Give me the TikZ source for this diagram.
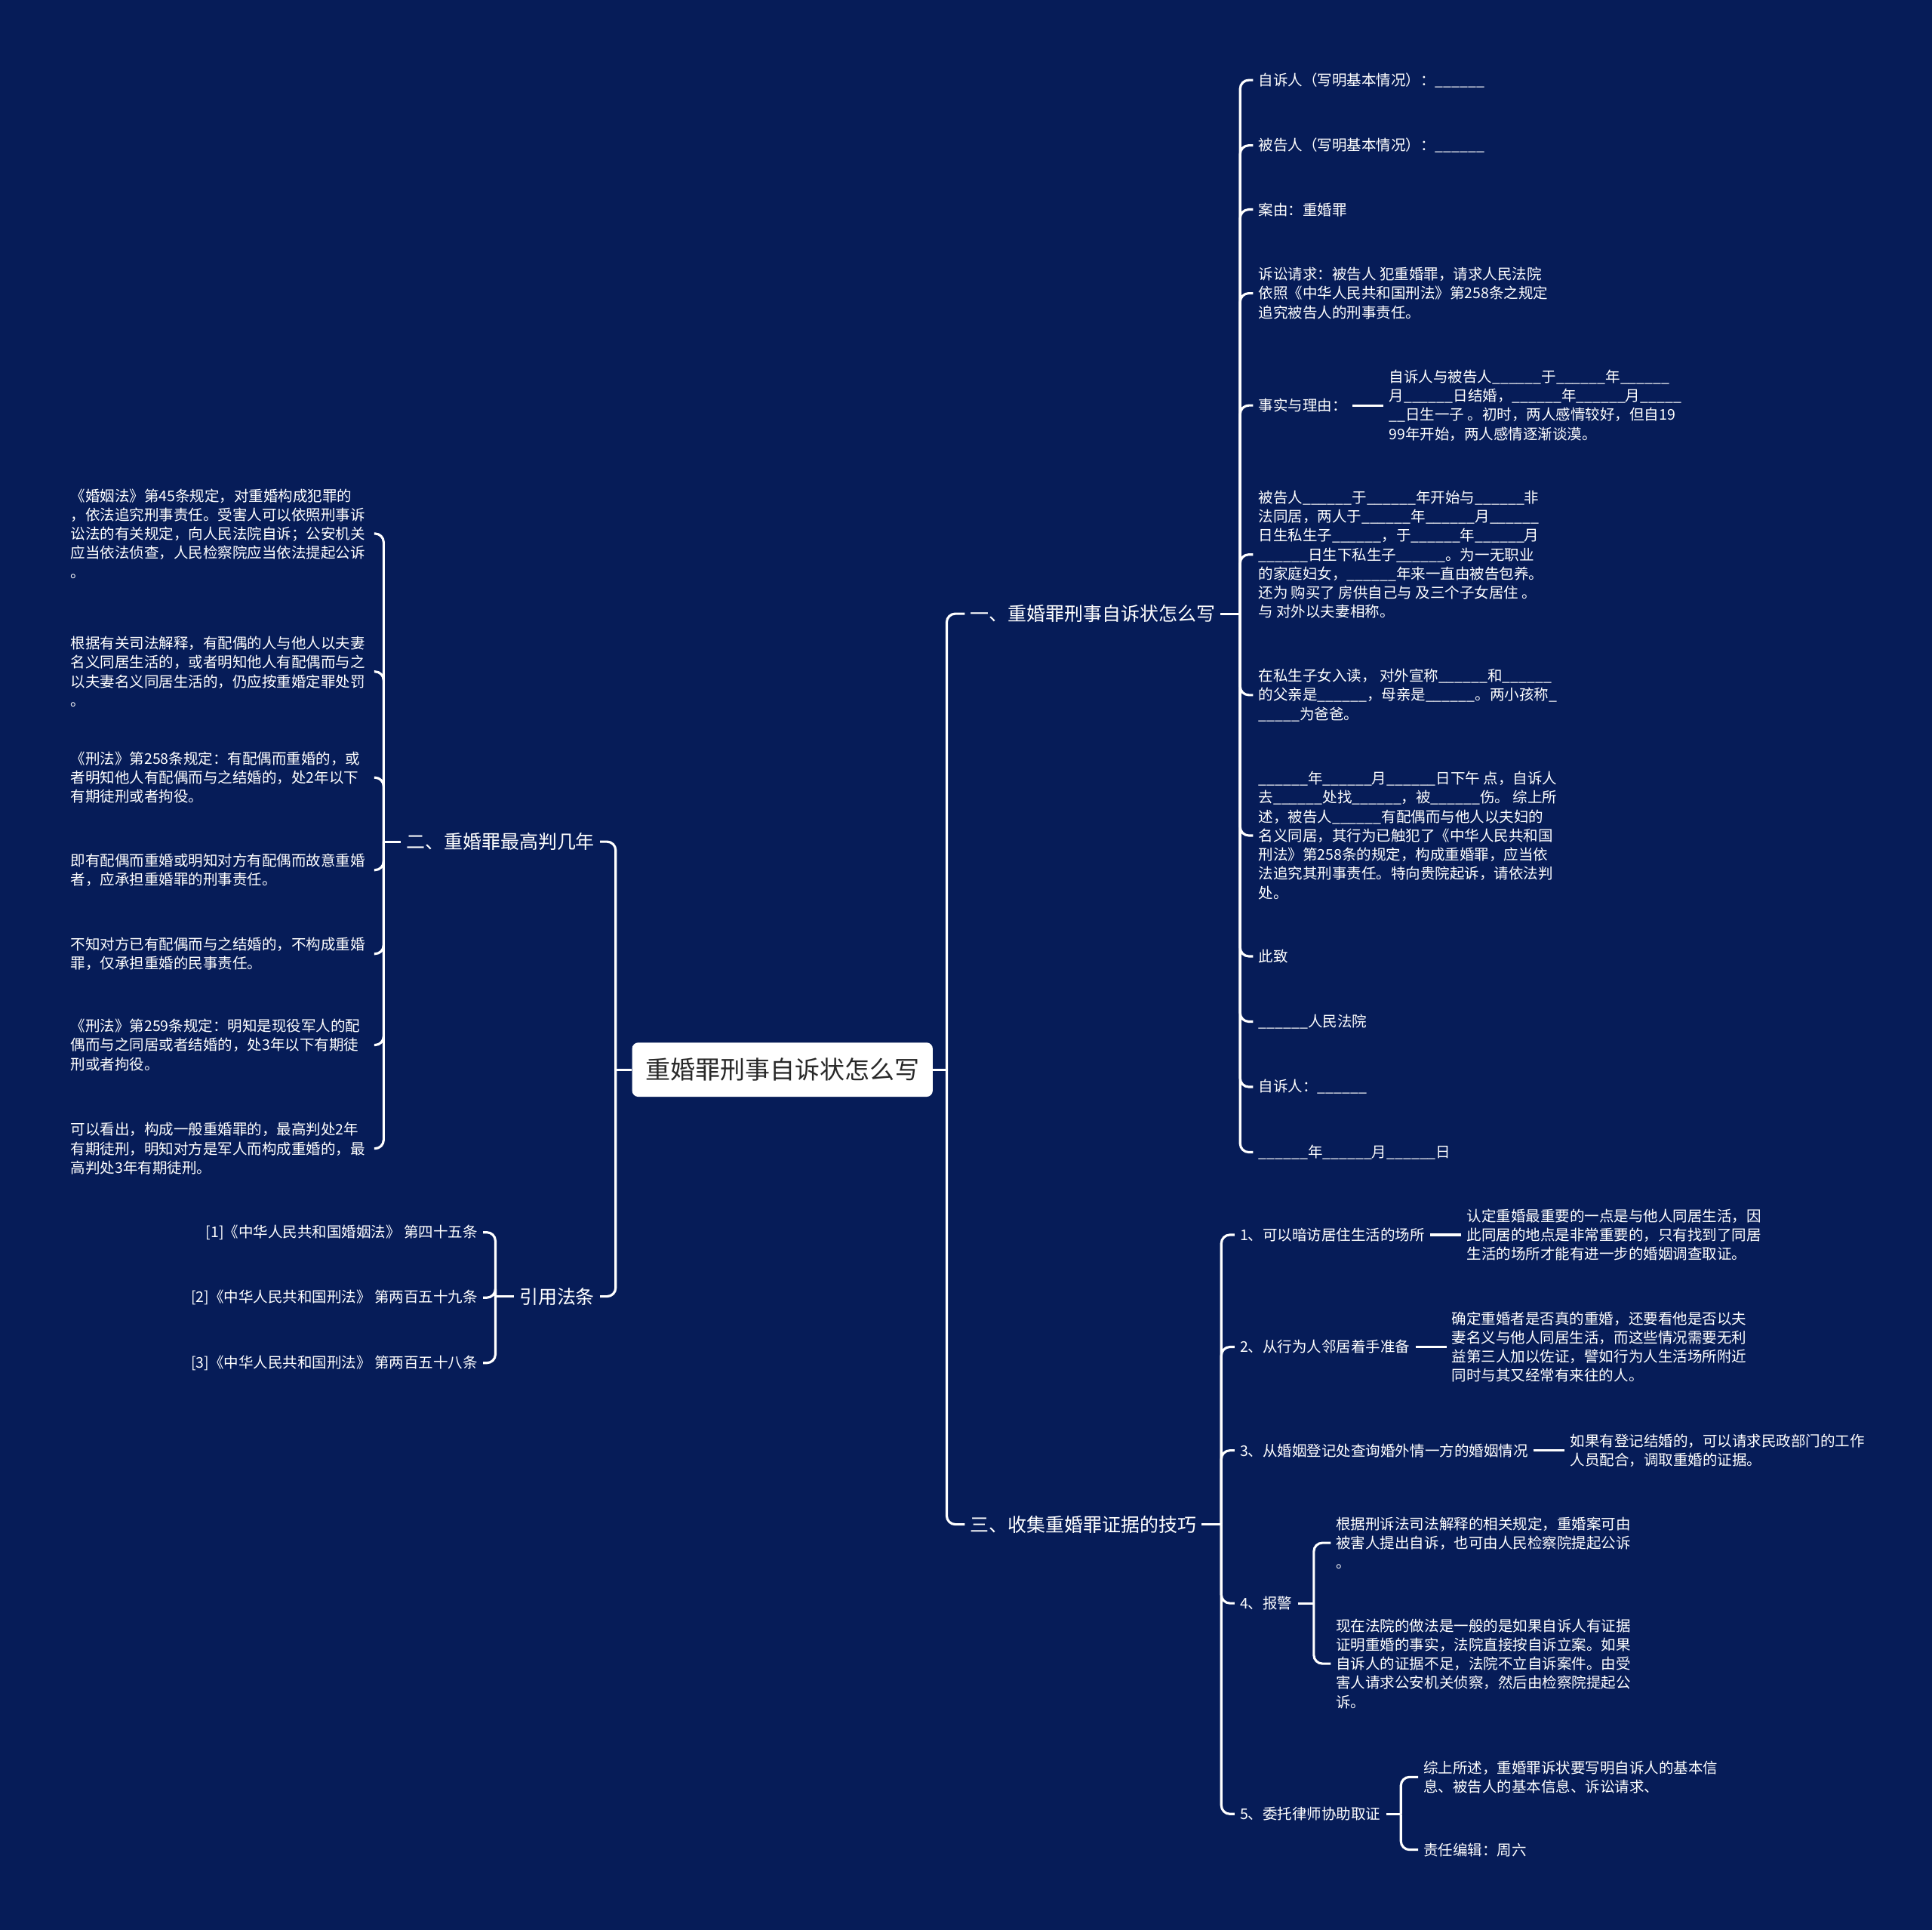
\documentclass[tikz,border=0pt]{standalone}
\usepackage{fontspec}
\setmainfont{Noto Sans CJK SC}
\usepackage{tikz}
\usetikzlibrary{calc}
\definecolor{navy}{RGB}{6,28,88}
\definecolor{ink}{RGB}{40,40,40}
\newcommand{\blank}{\_\_\_\_\_\_}

\begin{document}
\begin{tikzpicture}[x=0.02cm, y=-0.02cm,
  root/.style={fill=white, rounded corners=0.1cm, text=ink, minimum width=4.88cm, minimum height=0.88cm, font=\fontsize{11.5}{13}\selectfont},
  topic/.style={text=white, inner sep=2.3pt, font=\fontsize{8.7}{10}\selectfont},
  leaf/.style={text=white, inner sep=2.3pt, align=left, anchor=west, font=\fontsize{6.8}{8.8}\selectfont},
  note/.style={leaf, text width=4.84cm},
  link/.style={draw=white, line width=1.1pt, rounded corners=0.14cm}]
\fill[navy] (0,0) rectangle (1568,1566);
\useasboundingbox (0,0) rectangle (1568,1566);

\node[root] (root) at (635,868) {重婚罪刑事自诉状怎么写};
\node[topic, anchor=west] (s1) at (783,498) {一、重婚罪刑事自诉状怎么写};
\node[topic, anchor=east] (s2) at (487,683) {二、重婚罪最高判几年};
\node[topic, anchor=east] (s4) at (487,1052) {引用法条};
\node[topic, anchor=west] (s3) at (783,1237) {三、收集重婚罪证据的技巧};

% 一
\node[leaf] (a1) at (1017,65) {自诉人（写明基本情况）：\blank{}};
\node[leaf] (a2) at (1017,118) {被告人（写明基本情况）：\blank{}};
\node[leaf] (a3) at (1017,170) {案由：重婚罪};
\node[leaf] (a4) at (1017,238) {诉讼请求：被告人 犯重婚罪，请求人民法院\\依照《中华人民共和国刑法》第258条之规定\\追究被告人的刑事责任。};
\node[leaf] (a5) at (1017,329) {事实与理由：};
\node[leaf] (a5x) at (1123,329) {自诉人与被告人\blank{}于\blank{}年\blank{}\\月\blank{}日结婚，\blank{}年\blank{}月\_\_\_\_\_\\\_\_日生一子 。初时，两人感情较好，但自19\\99年开始，两人感情逐渐谈漠。};
\node[leaf] (a6) at (1017,450) {被告人\blank{}于\blank{}年开始与\blank{}非\\法同居，两人于\blank{}年\blank{}月\blank{}\\日生私生子\blank{}，于\blank{}年\blank{}月\\\blank{}日生下私生子\blank{}。为一无职业\\的家庭妇女，\blank{}年来一直由被告包养。\\还为 购买了 房供自己与 及三个子女居住 。\\与 对外以夫妻相称。};
\node[leaf] (a7) at (1017,564) {在私生子女入读， 对外宣称\blank{}和\blank{}\\的父亲是\blank{}，母亲是\blank{}。两小孩称\_\\\_\_\_\_\_为爸爸。};
\node[leaf] (a8) at (1017,678) {\blank{}年\blank{}月\blank{}日下午 点，自诉人\\去\blank{}处找\blank{}，被\blank{}伤。 综上所\\述，被告人\blank{}有配偶而与他人以夫妇的\\名义同居，其行为已触犯了《中华人民共和国\\刑法》第258条的规定，构成重婚罪，应当依\\法追究其刑事责任。特向贵院起诉，请依法判\\处。};
\node[leaf] (a9) at (1017,776) {此致};
\node[leaf] (a10) at (1017,829) {\blank{}人民法院};
\node[leaf] (a11) at (1017,882) {自诉人：\blank{}};
\node[leaf] (a12) at (1017,935) {\blank{}年\blank{}月\blank{}日};

% 二
\node[note] (b1) at (53,433) {《婚姻法》第45条规定，对重婚构成犯罪的\\，依法追究刑事责任。受害人可以依照刑事诉\\讼法的有关规定，向人民法院自诉；公安机关\\应当依法侦查，人民检察院应当依法提起公诉\\。};
\node[note] (b2) at (53,545) {根据有关司法解释，有配偶的人与他人以夫妻\\名义同居生活的，或者明知他人有配偶而与之\\以夫妻名义同居生活的，仍应按重婚定罪处罚\\。};
\node[note] (b3) at (53,631) {《刑法》第258条规定：有配偶而重婚的，或\\者明知他人有配偶而与之结婚的，处2年以下\\有期徒刑或者拘役。};
\node[note] (b4) at (53,706) {即有配偶而重婚或明知对方有配偶而故意重婚\\者，应承担重婚罪的刑事责任。};
\node[note] (b5) at (53,774) {不知对方已有配偶而与之结婚的，不构成重婚\\罪，仅承担重婚的民事责任。};
\node[note] (b6) at (53,848) {《刑法》第259条规定：明知是现役军人的配\\偶而与之同居或者结婚的，处3年以下有期徒\\刑或者拘役。};
\node[note] (b7) at (53,932) {可以看出，构成一般重婚罪的，最高判处2年\\有期徒刑，明知对方是军人而构成重婚的，最\\高判处3年有期徒刑。};

% 引用法条
\node[leaf, anchor=east] (r1) at (392,1000) {[1]《中华人民共和国婚姻法》 第四十五条};
\node[leaf, anchor=east] (r2) at (392,1053) {[2]《中华人民共和国刑法》 第两百五十九条};
\node[leaf, anchor=east] (r3) at (392,1106) {[3]《中华人民共和国刑法》 第两百五十八条};

% 三
\node[leaf] (t1) at (1002,1002) {1、可以暗访居住生活的场所};
\node[leaf] (d1) at (1186,1002) {认定重婚最重要的一点是与他人同居生活，因\\此同居的地点是非常重要的，只有找到了同居\\生活的场所才能有进一步的婚姻调查取证。};
\node[leaf] (t2) at (1002,1093) {2、从行为人邻居着手准备};
\node[leaf] (d2) at (1174,1093) {确定重婚者是否真的重婚，还要看他是否以夫\\妻名义与他人同居生活，而这些情况需要无利\\益第三人加以佐证，譬如行为人生活场所附近\\同时与其又经常有来往的人。};
\node[leaf] (t3) at (1002,1177) {3、从婚姻登记处查询婚外情一方的婚姻情况};
\node[leaf] (d3) at (1270,1177) {如果有登记结婚的，可以请求民政部门的工作\\人员配合，调取重婚的证据。};
\node[leaf] (t4) at (1002,1301) {4、报警};
\node[leaf] (t4a) at (1080,1252) {根据刑诉法司法解释的相关规定，重婚案可由\\被害人提出自诉，也可由人民检察院提起公诉\\。};
\node[leaf] (t4b) at (1080,1350) {现在法院的做法是一般的是如果自诉人有证据\\证明重婚的事实，法院直接按自诉立案。如果\\自诉人的证据不足，法院不立自诉案件。由受\\害人请求公安机关侦察，然后由检察院提起公\\诉。};
\node[leaf] (t5) at (1002,1472) {5、委托律师协助取证};
\node[leaf] (t5a) at (1151,1442) {综上所述，重婚罪诉状要写明自诉人的基本信\\息、被告人的基本信息、诉讼请求、};
\node[leaf] (t5b) at (1151,1501) {责任编辑：周六};

% connectors
\draw[link] (root.east) -- ++(11,0) coordinate (rj);
\foreach \c in {s1,s3} \draw[link] (rj) |- (\c.west);
\draw[link] (root.west) -- ++(-13,0) coordinate (lj);
\foreach \c in {s2,s4} \draw[link] (lj) |- (\c.east);

\draw[link] (s1.east) -- ++(16,0) coordinate (s1j);
\foreach \i in {1,...,12} \draw[link] (s1j) |- (a\i.west);
\draw[link] (a5.east) -- (a5x.west);

\draw[link] (s2.west) -- ++(-14,0) coordinate (s2j);
\foreach \i in {1,...,7} \draw[link] (s2j) |- (b\i.east);

\draw[link] (s4.west) -- ++(-15,0) coordinate (s4j);
\foreach \i in {1,2,3} \draw[link] (s4j) |- (r\i.east);

\draw[link] (s3.east) -- ++(16,0) coordinate (s3j);
\foreach \i in {1,...,5} \draw[link] (s3j) |- (t\i.west);
\foreach \i in {1,2,3} \draw[link] (t\i.east) -- (d\i.west);
\draw[link] (t4.east) -- ++(13,0) coordinate (t4j);
\foreach \c in {t4a,t4b} \draw[link] (t4j) |- (\c.west);
\draw[link] (t5.east) -- ++(12,0) coordinate (t5j);
\foreach \c in {t5a,t5b} \draw[link] (t5j) |- (\c.west);
\end{tikzpicture}
\end{document}
